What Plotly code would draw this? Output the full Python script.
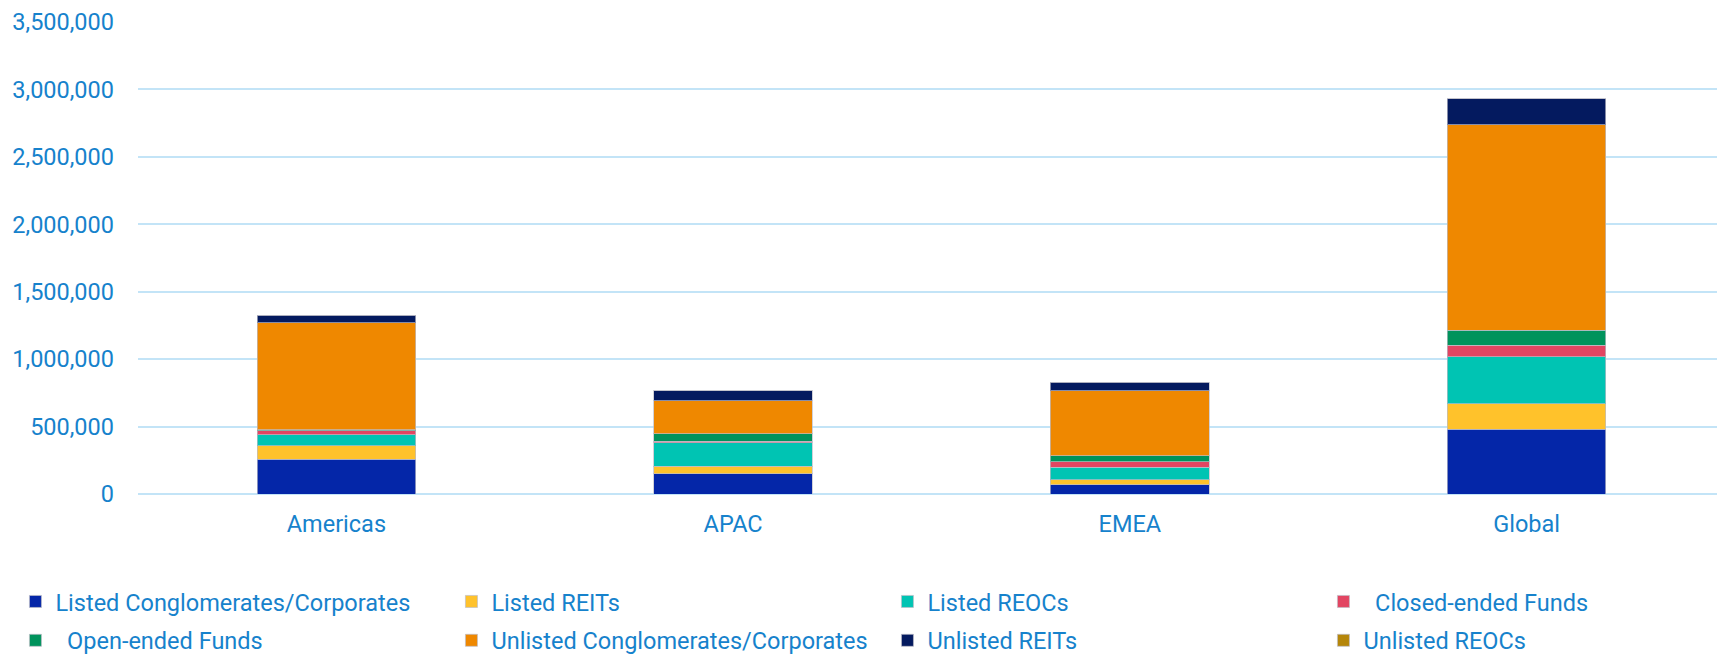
import plotly.graph_objects as go

regions = ["Americas", "APAC", "EMEA", "Global"]

listed_conglomerates = [258000, 149000, 67000, 480000]
listed_reits = [98000, 57000, 40000, 188000]
listed_reocs = [82000, 173000, 91000, 351000]
closed_ended = [30000, 12000, 43000, 85000]
open_ended = [7000, 57000, 41000, 111000]
unlisted_conglomerates = [795000, 245000, 483000, 1522000]
unlisted_reits = [57000, 72000, 64000, 193000]
unlisted_reocs = [0, 0, 0, 0]

# name, values, colour, legend row
series = [
    ("Listed Conglomerates/Corporates", listed_conglomerates, "#0426a8", "legend"),
    ("Listed REITs", listed_reits, "#ffc22b", "legend"),
    ("Listed REOCs", listed_reocs, "#00c4b3", "legend"),
    ("  Closed-ended Funds", closed_ended, "#e24562", "legend"),
    ("  Open-ended Funds", open_ended, "#00935c", "legend2"),
    ("Unlisted Conglomerates/Corporates", unlisted_conglomerates, "#ef8800", "legend2"),
    ("Unlisted REITs", unlisted_reits, "#041a5f", "legend2"),
    ("Unlisted REOCs", unlisted_reocs, "#b5860a", "legend2"),
]

text_blue = "#1682cc"
grid_blue = "#c3e4f7"
font_size = 23.5

fig = go.Figure()
for i, (name, vals, color, leg) in enumerate(series):
    fig.add_trace(go.Bar(
        name=name, x=regions, y=vals,
        legend=leg,
        legendwidth=391 if i % 4 != 3 else 220,
        marker=dict(color=color, line=dict(color="rgba(190,190,200,0.7)", width=1)),
    ))

legend_style = dict(
    orientation="h",
    xref="container", yref="container",
    xanchor="left", yanchor="middle",
    traceorder="normal",
    itemclick=False,
    font=dict(family="Roboto", size=font_size, color=text_blue),
)

fig.update_layout(
    width=1717, height=659,
    barmode="stack",
    bargap=0.6,
    paper_bgcolor="white",
    plot_bgcolor="white",
    font=dict(family="Roboto", size=font_size, color=text_blue),
    margin=dict(l=138, r=0, t=22, b=165),
    xaxis=dict(
        range=[-0.5, 3.48],
        showgrid=False,
        showline=False,
        zeroline=False,
        ticks="",
        automargin=False,
        ticklabelstandoff=13,
        tickfont=dict(family="Roboto", size=font_size, color=text_blue),
    ),
    yaxis=dict(
        range=[0, 3500000],
        tickvals=[0, 500000, 1000000, 1500000, 2000000, 2500000, 3000000, 3500000],
        tickformat=",d",
        showgrid=True,
        gridcolor=grid_blue,
        gridwidth=1.5,
        zeroline=True,
        zerolinecolor=grid_blue,
        zerolinewidth=1.5,
        ticks="",
        automargin=False,
        ticklabelstandoff=23,
        tickfont=dict(family="Roboto", size=font_size, color=text_blue),
    ),
    showlegend=True,
    legend=dict(legend_style, x=0.009, y=0.087),
    legend2=dict(legend_style, x=0.009, y=0.028),
)

fig.write_html("out.html", config={"displayModeBar": False},
               post_script="document.body.style.margin='0';")
